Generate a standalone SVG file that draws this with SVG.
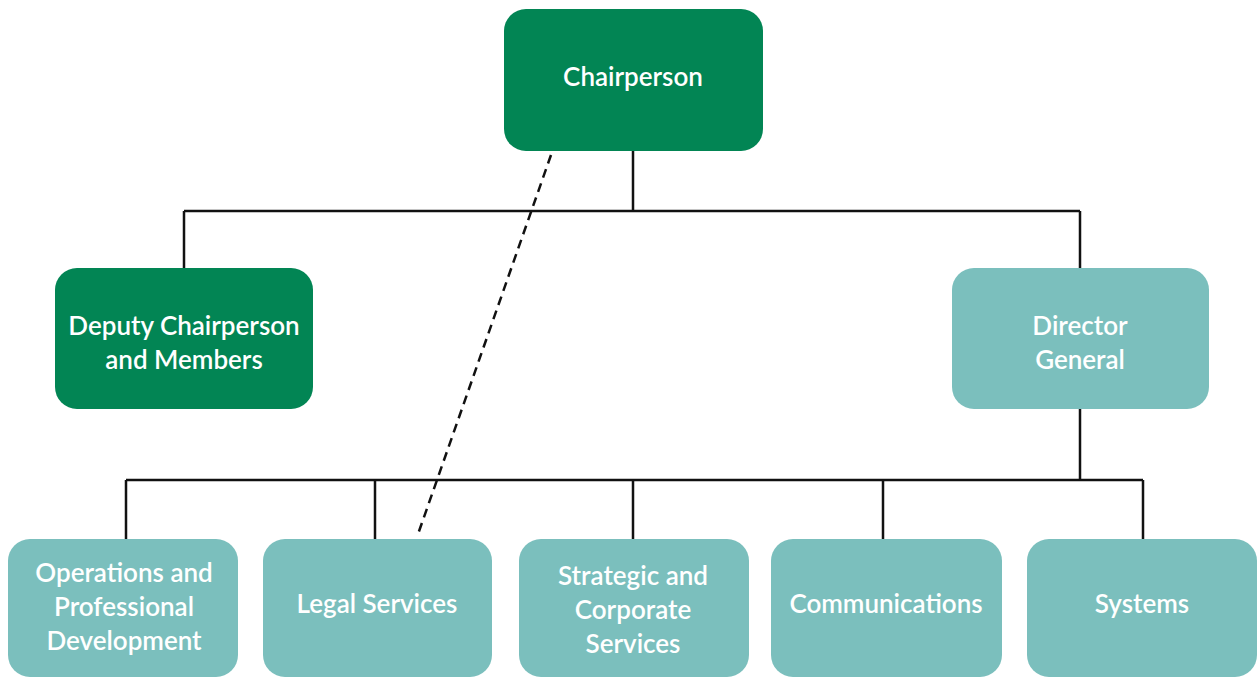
<svg xmlns="http://www.w3.org/2000/svg" width="1259" height="678" viewBox="0 0 1259 678">
<style>
.dark{fill:#028554}
.teal{fill:#7bbfbd}
.lbl{font-family:Lato,"Open Sans","Liberation Sans",sans-serif;font-size:26px;font-weight:600;fill:#ffffff;text-anchor:middle}
.ln{stroke:#111;stroke-width:2.5;fill:none}
.dash{stroke:#111;stroke-width:2.5;fill:none;stroke-dasharray:9 6}
</style>
<rect width="1259" height="678" fill="#ffffff"/>
<g id="connectors">
<path class="ln" d="M633 151V211M184 211H1080M184 211V268M1080 211V268M1080 409V480M126 480H1143M126 480V539M375 480V539M633 480V539M883 480V539M1143 480V539"/>
<path class="dash" d="M551 155L417 537"/>
</g>
<g id="chairperson"><rect class="dark" x="504" y="9" width="259" height="142" rx="22"/><text class="lbl" x="633" y="86">Chairperson</text></g>
<g id="deputy"><rect class="dark" x="55" y="268" width="258" height="141" rx="22"/><text class="lbl" x="184" y="335">Deputy Chairperson</text><text class="lbl" x="184" y="369">and Members</text></g>
<g id="director"><rect class="teal" x="952" y="268" width="257" height="141" rx="22"/><text class="lbl" x="1080" y="335">Director</text><text class="lbl" x="1080" y="369">General</text></g>
<g id="operations"><rect class="teal" x="8" y="539" width="230" height="138" rx="22"/><text class="lbl" x="124" y="582">Operations and</text><text class="lbl" x="124" y="616">Professional</text><text class="lbl" x="124" y="650">Development</text></g>
<g id="legal"><rect class="teal" x="263" y="539" width="229" height="138" rx="22"/><text class="lbl" x="377" y="613">Legal Services</text></g>
<g id="strategic"><rect class="teal" x="519" y="539" width="230" height="138" rx="22"/><text class="lbl" x="633" y="585">Strategic and</text><text class="lbl" x="633" y="619">Corporate</text><text class="lbl" x="633" y="653">Services</text></g>
<g id="communications"><rect class="teal" x="771" y="539" width="231" height="138" rx="22"/><text class="lbl" x="886" y="613">Communications</text></g>
<g id="systems"><rect class="teal" x="1027" y="539" width="230" height="138" rx="22"/><text class="lbl" x="1142" y="613">Systems</text></g>
</svg>
